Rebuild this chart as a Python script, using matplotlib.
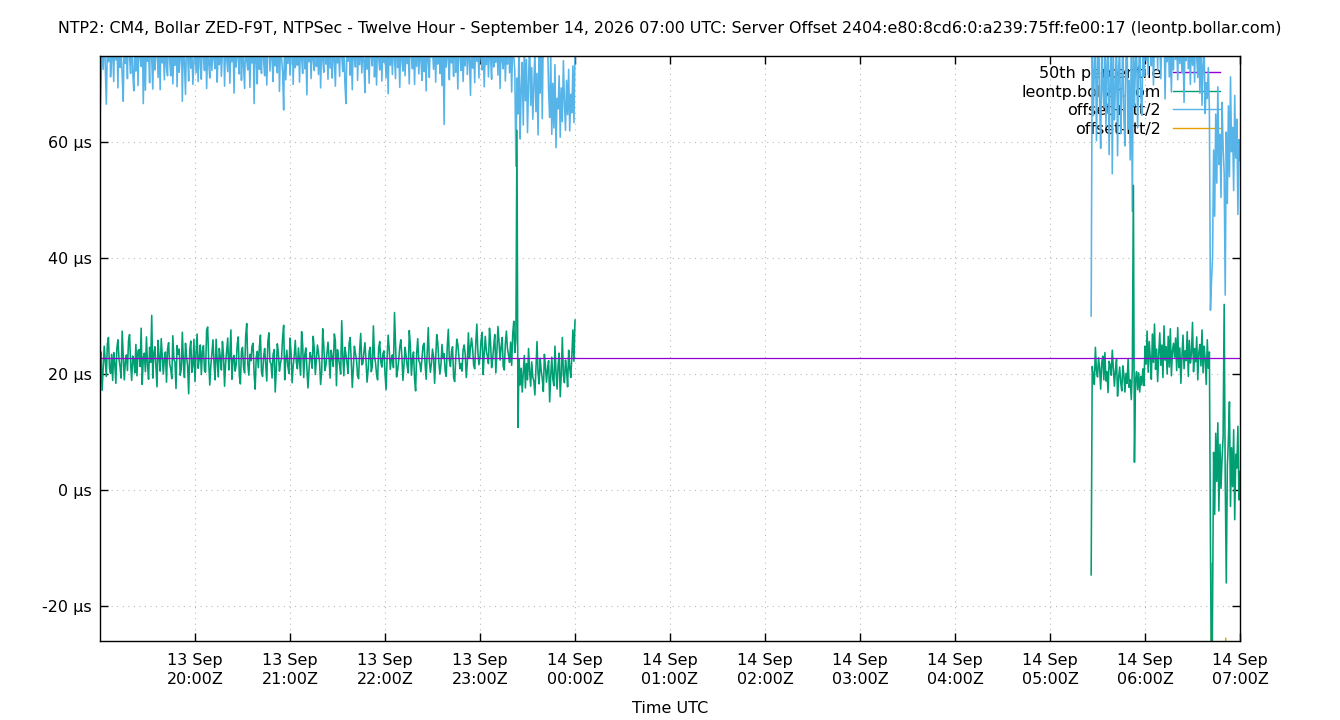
import numpy as np
import pandas as pd
import matplotlib
matplotlib.use("Agg")
import matplotlib.pyplot as plt
import matplotlib.dates as mdates
from matplotlib.ticker import FuncFormatter, FixedLocator

# ---------------- data ----------------
TITLE = ("NTP2: CM4, Bollar ZED-F9T, NTPSec - Twelve Hour - September 14, 2026 07:00 UTC: "
         "Server Offset 2404:e80:8cd6:0:a239:75ff:fe00:17 (leontp.bollar.com)")
series_labels = ["50th percentile", "leontp.bollar.com", "offset+rtt/2", "offset-rtt/2"]
x_range = ["2026-09-13 19:00", "2026-09-14 07:00"]
x_tick_start = "2026-09-13 20:00"
y_ticks = [-20, 0, 20, 40, 60]
y_range = [-26.0, 74.8]
median_us = 22.7

sample_step = "40s"
seg1_start = "2026-09-13 19:00:00"
seg2_start = "2026-09-14 05:26:00"
orange1_step = "15min"
orange2_step = "75s"

# offset (µs), first block 19:00 - 00:00
offset_1 = [
    21.5, 23.8, 17.2, 20.9, 24.8, 22.3, 19.6, 25.2, 26.3, 21.0, 20.1, 23.4, 18.9, 23.7, 21.8, 18.4, 24.5, 25.9, 22.6, 21.2, 19.3, 27.4, 23.0, 19.0, 22.1,
    23.3, 20.6, 25.7, 26.8, 21.9, 18.9, 23.1, 22.4, 20.2, 25.1, 19.7, 24.0, 24.2, 21.3, 27.9, 18.2, 22.8, 23.6, 20.4, 26.4, 21.6, 19.1, 24.6, 22.0, 30.1,
    19.3, 23.5, 24.7, 21.1, 17.8, 25.8, 22.9, 20.5, 26.1, 23.2, 20.0, 22.7, 23.8, 18.6, 24.3, 25.4, 21.7, 20.9, 19.2, 26.6, 22.5, 22.1, 17.5, 24.9, 23.4,
    24.3, 19.8, 20.8, 27.2, 22.0, 19.4, 25.3, 23.0, 21.4, 16.6, 24.1, 25.7, 20.3, 21.4, 26.0, 18.7, 23.6, 26.9, 21.0, 22.6, 25.0, 19.9, 23.9, 24.9, 20.6,
    20.3, 27.5, 28.1, 22.2, 18.1, 21.5, 23.5, 25.9, 21.9, 19.0, 26.0, 22.4, 19.5, 24.4, 22.8, 20.7, 25.6, 23.3, 17.9, 21.8, 24.0, 26.2, 20.7, 23.1, 27.6,
    19.1, 22.6, 23.2, 20.5, 21.6, 25.1, 26.4, 19.7, 18.3, 23.9, 24.6, 21.2, 20.2, 26.5, 28.7, 21.8, 19.8, 23.4, 22.3, 24.8, 25.3, 20.0, 17.4, 22.9, 23.9,
    21.1, 24.7, 26.7, 20.4, 19.6, 23.0, 24.4, 21.7, 18.8, 25.5, 27.1, 22.1, 21.8, 19.3, 23.4, 24.2, 16.9, 20.8, 25.2, 23.6, 20.5, 21.9, 22.7, 26.3, 28.4,
    19.0, 22.5, 24.1, 21.3, 20.1, 26.2, 23.7, 18.5, 21.4, 23.1, 25.8, 22.0, 20.9, 24.5, 22.2, 19.8, 27.3, 25.0, 19.4, 23.3, 24.5, 21.2, 17.6, 20.6, 23.7,
    22.9, 21.0, 26.5, 24.3, 19.9, 22.4, 25.0, 23.6, 22.0, 18.2, 20.3, 27.8, 24.9, 20.6, 21.5, 23.6, 25.5, 22.8, 19.3, 24.1, 22.8, 21.3, 26.9, 25.7, 18.0,
    24.2, 22.7, 21.5, 20.0, 29.2, 23.2, 19.7, 24.6, 23.4, 21.9, 20.1, 25.3, 26.3, 22.4, 17.7, 20.9, 24.8, 23.5, 22.5, 19.7, 19.2, 24.2, 27.0, 21.6, 21.8,
    23.8, 25.4, 22.3, 18.6, 20.7, 23.9, 24.6, 20.4, 21.3, 28.3, 23.0, 22.0, 19.9, 19.0, 24.5, 25.6, 22.1, 21.2, 23.5, 24.0, 20.2, 17.3, 22.8, 26.7, 24.3,
    20.8, 22.6, 23.3, 21.1, 30.6, 25.2, 19.5, 20.7, 22.4, 24.7, 25.9, 22.9, 18.9, 21.6, 24.6, 23.1, 21.4, 20.2, 27.5, 25.0, 19.8, 22.5, 23.8, 19.2, 17.1,
    23.6, 26.1, 22.3, 21.9, 20.4, 22.6, 24.9, 25.3, 21.7, 19.1, 23.8, 28.0, 22.2, 20.3, 21.9, 24.3, 23.0, 18.4, 22.5, 26.8, 25.4, 22.1, 20.0, 21.6, 25.1,
    22.7, 23.5, 20.5, 19.6, 24.8, 27.7, 22.3, 21.3, 23.9, 24.7, 19.4, 18.7, 22.6, 26.0, 25.1, 22.9, 20.9, 21.8, 20.5, 24.2, 25.0, 23.4, 19.4, 22.1, 27.1,
    22.7, 24.6, 26.2, 24.4, 21.5, 20.9, 25.3, 28.6, 23.8, 21.6, 22.9, 25.8, 27.2, 19.9, 23.5, 26.5, 24.0, 23.0, 21.8, 27.9, 25.4, 21.1, 22.6, 24.9, 26.8,
    20.2, 23.9, 28.2, 25.6, 22.4, 24.7, 26.3, 21.3, 20.7, 25.2, 27.4, 24.4, 23.3, 22.0, 25.5, 21.5, 26.9, 29.1, 23.7, 26.0, 62.0, 10.8, 22.6, 18.1, 21.0,
    16.9, 20.3, 23.2, 17.6, 21.8, 19.0, 24.4, 20.5, 17.9, 22.1, 19.5, 18.8, 16.4, 21.2, 25.6, 20.1, 18.3, 22.7, 20.6, 19.2, 17.0, 23.4, 21.3, 18.6, 20.9,
    22.3, 15.2, 19.7, 22.9, 19.1, 18.0, 24.8, 20.4, 17.4, 21.5, 23.6, 16.1, 20.0, 26.3, 19.8, 18.5, 22.4, 20.7, 17.8, 24.1, 21.1, 19.4, 23.0, 27.6, 22.2,
    29.3,
]

# offset+rtt/2 (µs), first block
upper_1 = [
    64.0, 70.2, 79, 72.5, 81, 73.1, 66.5, 77, 73.8, 83, 71.2, 74.6, 76, 70.4, 80, 74.1, 78, 69.3, 82, 72.8, 75.9, 71.7, 67.0, 79, 73.5,
    77, 70.9, 84, 74.4, 71.8, 79, 72.0, 68.8, 76, 72.2, 80, 69.7, 78, 74.7, 73.0, 81, 66.6, 77, 68.9, 79, 73.9, 76, 70.2, 82, 74.3,
    69.1, 78, 72.4, 74.9, 80, 71.1, 77, 69.0, 83, 73.6, 76, 70.7, 79, 72.9, 71.4, 81, 74.2, 71.4, 78, 70.0, 76, 73.2, 84, 69.5, 77,
    72.0, 74.5, 80, 67.0, 79, 73.4, 68.2, 78, 75.2, 70.5, 81, 72.7, 76, 69.9, 74.0, 79, 71.9, 77, 70.4, 82, 73.1, 70.8, 78, 74.8, 72.3,
    80, 69.2, 76, 73.7, 71.0, 79, 72.3, 77, 74.3, 72.6, 83, 70.3, 76, 73.3, 78, 71.3, 75.5, 80, 69.6, 77, 74.5, 72.1, 81, 70.1, 76,
    73.8, 78, 68.4, 79, 72.9, 76, 74.9, 71.7, 84, 70.6, 77, 73.0, 69.2, 80, 74.0, 72.4, 78, 69.4, 76, 73.6, 79, 66.6, 77, 74.7, 70.0,
    82, 72.5, 76, 71.8, 80, 73.9, 71.4, 78, 69.8, 75.8, 81, 72.2, 77, 74.2, 70.4, 79, 73.1, 76, 71.9, 83, 68.7, 77, 74.4, 72.0, 65.5,
    80, 70.7, 76, 73.5, 78, 71.5, 74.9, 81, 69.9, 77, 72.8, 76, 73.2, 79, 70.3, 77, 74.6, 71.8, 82, 72.6, 76, 68.1, 80, 73.8, 77,
    70.9, 78, 74.1, 72.3, 81, 73.0, 76, 71.6, 79, 69.3, 77, 74.3, 72.0, 80, 73.4, 76, 70.8, 79, 72.7, 84, 71.0, 77, 74.2, 69.6, 78,
    73.6, 76, 71.3, 80, 74.8, 72.1, 79, 70.2, 66.6, 77, 73.9, 81, 71.5, 76, 69.0, 78, 74.4, 72.9, 83, 70.6, 77, 73.3, 79, 71.9, 76,
    74.0, 68.5, 80, 72.5, 77, 70.1, 79, 74.7, 73.1, 82, 71.2, 76, 69.8, 78, 74.5, 72.4, 81, 70.5, 77, 73.7, 76, 71.0, 79, 68.3, 80,
    73.2, 77, 71.6, 78, 74.3, 70.9, 83, 72.8, 76, 69.4, 79, 74.1, 72.2, 80, 71.4, 77, 73.5, 76, 70.0, 81, 74.9, 72.6, 78, 69.9, 77,
    73.0, 79, 71.7, 76, 74.4, 70.6, 82, 72.1, 77, 68.8, 80, 73.8, 71.1, 78, 74.6, 76, 72.5, 79, 70.3, 77, 73.4, 81, 71.8, 76, 69.7,
    78, 63.0, 80, 72.9, 77, 74.2, 70.7, 79, 73.6, 76, 71.3, 83, 72.0, 77, 69.1, 80, 74.8, 72.3, 78, 70.4, 76, 73.1, 81, 71.6, 77,
    74.0, 68.0, 79, 72.7, 76, 70.2, 80, 73.9, 77, 71.0, 82, 74.3, 72.4, 78, 69.5, 76, 73.3, 79, 71.2, 77, 74.5, 70.8, 80, 72.9, 76,
    73.7, 78, 71.5, 81, 69.2, 77, 74.1, 72.6, 79, 70.5, 76, 73.4, 80, 71.9, 77, 68.6, 78, 74.7, 72.2, 55.8, 71.0, 64.8, 78, 60.5, 69.0,
    73.7, 62.9, 77, 67.1, 74.2, 61.6, 70.4, 78, 66.3, 72.8, 63.9, 69.5, 76, 65.2, 71.8, 61.2, 74.6, 68.4, 79, 64.0, 80, 82, 79, 81, 78,
    68.7, 64.2, 75.5, 61.3, 70.1, 62.4, 73.3, 59.0, 67.5, 65.7, 71.4, 60.8, 69.3, 63.5, 74.0, 66.9, 62.0, 70.6, 64.7, 72.5, 61.9, 68.2, 65.0, 73.1, 63.3,
    76,
]

# offset-rtt/2 (µs), first block, every 15 min (all below the plotted range)
lower_1 = [-38.5, -41.2, -37.9, -40.6, -39.3, -42.0, -38.1, -40.9, -39.7, -37.6, -41.5,
           -38.8, -40.2, -39.0, -42.3, -37.4, -40.0, -38.3, -44.6, -43.1, -42.2]

# second block 05:26 - 07:00
offset_2 = [
    -14.6, 21.3, 19.6, 18.2, 24.6, 20.7, 19.5, 22.8, 21.0, 17.4, 21.9, 23.1, 19.0, 23.7, 18.8, 20.4, 16.8, 22.2, 21.5, 19.8, 24.1, 21.0, 17.9, 20.6, 22.5,
    16.2, 19.3, 21.2, 18.5, 17.1, 21.4, 19.9, 16.9, 20.1, 18.4, 22.6, 17.7, 19.0, 15.6, 20.8, 52.5, 4.8, 18.9, 20.4, 17.3, 20.2, 16.9, 19.6, 18.1, 20.9,
    18.0, 24.8, 21.7, 27.4, 20.3, 25.6, 22.8, 19.1, 26.9, 22.0, 28.6, 20.8, 24.3, 18.7, 23.5, 27.1, 21.5, 25.0, 19.4, 28.3, 22.4, 24.7, 20.0, 26.5, 21.2,
    27.8, 19.7, 23.9, 25.3, 22.9, 26.2, 20.6, 28.0, 21.1, 24.5, 18.4, 23.2, 26.7, 20.9, 24.0, 22.3, 27.3, 19.6, 25.8, 21.9, 23.6, 28.9, 20.4, 24.4, 22.1,
    26.4, 19.0, 23.7, 25.1, 21.4, 27.6, 20.2, 24.8, 22.6, 18.2, 25.9, 21.0, 23.8, -9.0, -35.0, -20.0, 6.5, -4.2, 9.8, 1.5, 11.6, -3.6, 7.9, 0.3, 5.4,
    9.2, 32.0, 2.1, -16.0, 4.1, 8.6, 15.2, -2.8, 7.3, 0.6, 10.4, -5.1, 6.2, 3.8, 11.0, -1.7, 3.2,
]
upper_2 = [
    30.0, 78, 64.5, 72.1, 80, 60.2, 71.3, 82, 66.7, 58.9, 76, 69.4, 66.0, 79, 62.7, 73.4, 77, 57.8, 70.2, 81, 54.5, 75.6, 63.8, 69.5, 78,
    57.6, 72.9, 76, 61.4, 67.8, 80, 64.1, 59.3, 74.7, 79, 62.2, 70.6, 56.9, 77, 48.0, 80, 66.2, 73.5, 77, 62.4, 70.5, 79, 68.1, 64.6, 75.0,
    71.3, 82, 74.0, 79, 71.6, 84, 76, 73.1, 81, 69.8, 78, 74.6, 80, 72.3, 83, 77, 70.9, 79, 75.3, 81, 67.4, 78, 73.8, 80, 71.2,
    76, 68.6, 79, 72.4, 82, 74.2, 77, 70.7, 80, 73.5, 78, 71.9, 76, 66.8, 79, 74.0, 81, 72.6, 77, 69.9, 80, 73.2, 78, 70.3, 83,
    74.5, 71.1, 77, 68.4, 79, 66.3, 73.0, 77, 64.9, 70.2, 67.5, 72.8, 65.6, 31.0, 36.0, 40.0, 58.6, 47.2, 64.8, 52.9, 69.5, 56.1, 61.3, 50.4, 66.8,
    59.1, 54.7, 33.6, 61.7, 49.4, 66.2, 54.0, 71.2, 58.3, 62.5, 51.6, 68.0, 57.2, 63.9, 47.5, 60.4, 56.8,
]
lower_2 = [
    -62.0, -44.1, -47.3, -42.6, -49.8, -45.2, -51.4, -43.7, -48.9, -46.0, -44.8, -50.3, -42.9, -47.6, -45.5, -53.1, -44.2, -49.0, -46.7, -51.8,
    -43.5, -30.5, -48.2, -45.9, -42.3, -47.1, -44.6, -49.5, -41.8, -40.2, -43.9, -39.6, -42.7, -40.8, -44.3, -39.1, -41.5, -43.2, -40.4, -42.0,
    -39.8, -41.9, -43.6, -40.1, -42.8, -39.4, -44.0, -41.2, -40.7, -43.3, -39.9, -42.5, -41.0, -44.7, -40.3, -42.2, -45.8, -41.6, -47.0, -43.4,
    -49.6, -12.6, -50.2, -55.8, -46.1, -53.4, -48.7, -41.3, -25.5, -52.0, -44.9, -57.3, -47.8, -51.5, -45.4, -49.1,
]

# ---------------- style ----------------
C_PURPLE = "#9400d3"
C_GREEN = "#009e73"
C_BLUE = "#56b4e9"
C_ORANGE = "#e69f00"
FS = 11.5

plt.rcParams["font.family"] = ["DejaVu Sans"]
plt.rcParams["font.size"] = FS

fig = plt.figure(figsize=(13.4, 7.2), dpi=100)
ax = fig.add_axes([100 / 1340, 79 / 720, 1140 / 1340, 585 / 720])

t1 = pd.date_range(seg1_start, periods=len(offset_1), freq=sample_step)
t2 = pd.date_range(seg2_start, periods=len(offset_2), freq=sample_step)
t1o = pd.date_range(seg1_start, periods=len(lower_1), freq=orange1_step)
t2o = pd.date_range(seg2_start, periods=len(lower_2), freq=orange2_step)

lw = 1.15
ax.plot(t1, upper_1, color=C_BLUE, lw=lw, zorder=2)
ax.plot(t2, upper_2, color=C_BLUE, lw=lw, zorder=2)
ax.plot(t1o, lower_1, color=C_ORANGE, lw=1.0, zorder=2.1)
ax.plot(t2o, lower_2, color=C_ORANGE, lw=1.0, zorder=2.1)
ax.plot(t1, offset_1, color=C_GREEN, lw=lw, zorder=2.2)
ax.plot(t2, offset_2, color=C_GREEN, lw=lw, zorder=2.2)
xr = pd.to_datetime(x_range)
ax.plot(xr, [median_us, median_us], color=C_PURPLE, lw=0.9, zorder=2.5)

ax.set_xlim(xr[0], xr[1])
ax.set_ylim(*y_range)

# ticks
xt = pd.date_range(x_tick_start, x_range[1], freq="h")
ax.xaxis.set_major_locator(FixedLocator(mdates.date2num(xt)))
ax.xaxis.set_major_formatter(mdates.DateFormatter("%d %b\n%H:%MZ"))
ax.yaxis.set_major_locator(FixedLocator(y_ticks))
ax.yaxis.set_major_formatter(FuncFormatter(lambda v, p: f"{int(round(v))} µs"))
ax.tick_params(axis="both", direction="in", length=6, width=1, top=True, right=True,
               labelsize=FS, colors="black")
ax.tick_params(axis="y", pad=6)
ax.tick_params(axis="x", pad=9)
for lbl in ax.get_xticklabels():
    lbl.set_linespacing(1.28)

for s in ax.spines.values():
    s.set_linewidth(1.0)
    s.set_color("black")
    s.set_zorder(4)

ax.grid(True, color="#bbbbbb", linestyle=(0, (1, 4)), linewidth=0.8, zorder=0)
ax.set_axisbelow(True)

ax.set_xlabel("Time UTC", fontsize=FS, labelpad=10)
fig.text(0.5, 1 - 29 / 720, TITLE, ha="center", va="center", fontsize=11.4)

# legend
handles = [
    plt.Line2D([], [], color=C_PURPLE, lw=1),
    plt.Line2D([], [], color=C_GREEN, lw=1),
    plt.Line2D([], [], color=C_BLUE, lw=1),
    plt.Line2D([], [], color=C_ORANGE, lw=1),
]
leg = ax.legend(handles, series_labels, loc="upper right", markerfirst=False, frameon=False,
                bbox_to_anchor=((1220 - 100) / 1140, (641 - 66) / 585), borderaxespad=0,
                borderpad=0, handlelength=2.95, handletextpad=0.75, labelspacing=0.22,
                fontsize=FS)
leg.set_zorder(1.5)

fig.savefig("out.png", dpi=100)
